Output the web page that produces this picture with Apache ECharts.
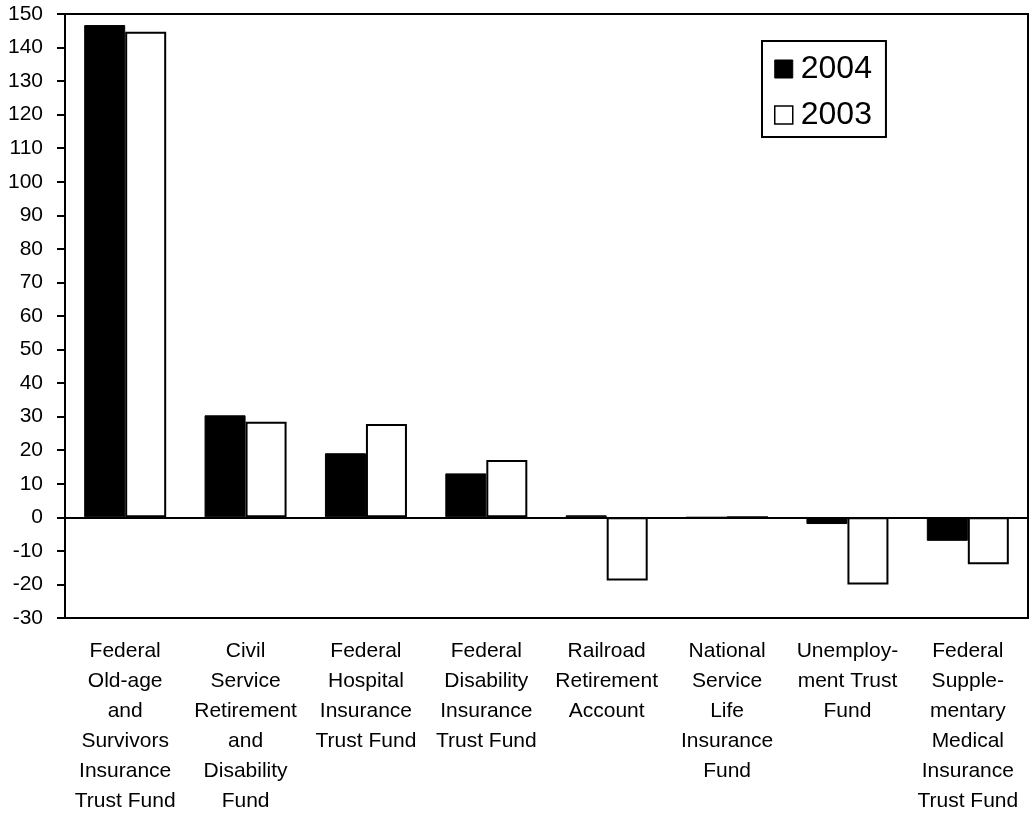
<!DOCTYPE html>
<html>
<head>
<meta charset="utf-8">
<script src="https://cdn.jsdelivr.net/npm/echarts@6/dist/echarts.min.js"></script>
<style>
html,body{margin:0;padding:0;background:#fff;}
#chart{width:1029px;height:813px;}
</style>
</head>
<body>
<div id="chart"></div>
<script>
const categories = [
  "Federal\nOld-age\nand\nSurvivors\nInsurance\nTrust Fund",
  "Civil\nService\nRetirement\nand\nDisability\nFund",
  "Federal\nHospital\nInsurance\nTrust Fund",
  "Federal\nDisability\nInsurance\nTrust Fund",
  "Railroad\nRetirement\nAccount",
  "National\nService\nLife\nInsurance\nFund",
  "Unemploy-\nment Trust\nFund",
  "Federal\nSupple-\nmentary\nMedical\nInsurance\nTrust Fund"
];
const values2004 = [146.7, 30.4, 19.1, 13.1, 0.6, 0, -2, -7];
const values2003 = [144.7, 28.5, 27.8, 17.1, -18.8, 0, -20, -14];
const seriesNames = ["2004", "2003"];

const FONT = "'Liberation Sans', Arial, sans-serif";
const chart = echarts.init(document.getElementById('chart'), null, {renderer: 'canvas'});
chart.setOption({
  animation: false,
  backgroundColor: '#fff',
  textStyle: {fontFamily: FONT, color: '#000'},
  grid: {left: 65, right: 1, top: 14, bottom: 195, outerBoundsMode: 'none', containLabel: false, show: true, borderColor: '#000', borderWidth: 2, backgroundColor: 'transparent'},
  legend: {
    orient: 'vertical',
    left: 762, top: 41,
    padding: [12, 14, 6, 12],
    borderColor: '#000', borderWidth: 2,
    icon: 'rect',
    itemWidth: 18, itemHeight: 18,
    itemGap: 14,
    textStyle: {fontFamily: FONT, fontSize: 32, color: '#000', lineHeight: 32, padding: [0, 0, 0, 3]},
    data: [
      {name: seriesNames[0], itemStyle: {color: '#000', borderColor: '#000', borderWidth: 1}},
      {name: seriesNames[1], itemStyle: {color: '#fff', borderColor: '#000', borderWidth: 1.5}}
    ]
  },
  xAxis: {
    type: 'category',
    data: categories,
    axisLine: {onZero: false, lineStyle: {color: '#000', width: 2}},
    axisTick: {show: false},
    axisLabel: {interval: 0, color: '#000', fontFamily: FONT, fontSize: 21, lineHeight: 30, margin: 18, align: 'center'},
    splitLine: {show: false}
  },
  yAxis: {
    type: 'value',
    min: -30, max: 150, interval: 10,
    axisLine: {show: true, lineStyle: {color: '#000', width: 2}},
    axisTick: {show: true, length: 8, lineStyle: {color: '#000', width: 2}},
    axisLabel: {color: '#000', fontFamily: FONT, fontSize: 21, margin: 22},
    splitLine: {show: false}
  },
  series: [
    {
      name: seriesNames[0], type: 'bar', data: values2004,
      barWidth: 41, barGap: '0%',
      itemStyle: {color: '#000', borderColor: '#000', borderWidth: 1},
      markLine: {
        silent: true, symbol: ['none', 'none'],
        label: {show: false},
        lineStyle: {color: '#000', width: 2, type: 'solid'},
        data: [{yAxis: 0}]
      }
    },
    {
      name: seriesNames[1], type: 'bar', data: values2003,
      barWidth: 41, barGap: '0%',
      itemStyle: {color: '#fff', borderColor: '#000', borderWidth: 2}
    }
  ]
});
</script>
</body>
</html>
